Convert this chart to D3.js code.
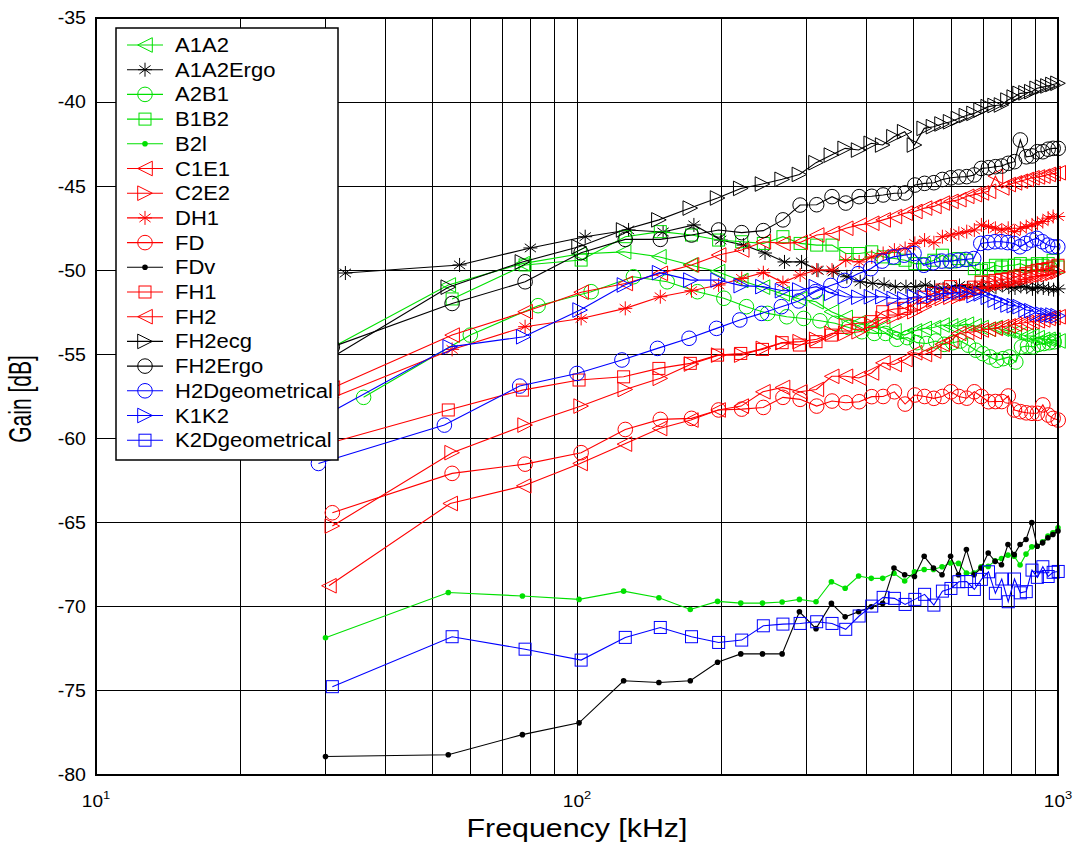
<!DOCTYPE html>
<html><head><meta charset="utf-8">
<script src="https://cdn.jsdelivr.net/npm/d3@7"></script>
<style>body{margin:0;background:#fff}svg{display:block}text{font-family:"Liberation Sans",Arial,Helvetica,sans-serif}</style>
</head><body><svg id="c" width="1074" height="846"></svg>
<script>
// Frequency grid (kHz)
const freqs = [30, 54, 77, 101, 125, 148, 172, 196, 219, 243, 267, 290, 314, 338, 361, 385, 409, 432, 456, 480, 503, 527, 551, 574, 598, 621, 645, 669, 692, 716, 740, 763, 787, 811, 834, 858, 882, 905, 929, 953, 976, 1000];
const names = ["A1A2","A1A2Ergo","A2B1","B1B2","B2l","C1E1","C2E2","DH1","FD","FDv","FH1","FH2","FH2ecg","FH2Ergo","H2Dgeometrical","K1K2","K2Dgeometrical"];
const colors = ["#00e000","#000","#00e000","#00e000","#00e000","#ff0000","#ff0000","#ff0000","#ff0000","#000","#ff0000","#ff0000","#000","#000","#0000ff","#0000ff","#0000ff"];
const markers = ["triL","star","circle","square","dot","triL","triR","star","circle","dot","square","triL","triR","circle","circle","triR","square"];
const freqShift = [0, 3, 6, 1, 0, 1, 1, 1, 1, 0, 0, 0.5, 0, 1, -1, 0.5, 1];

const A1A2 = [-54.8,-50.87,-49.6,-49.03,-48.9,-49.19,-49.68,-50.08,-50.6,-51.0,-51.4,-51.7,-51.87,-52.46,-52.8,-53.1,-53.3,-53.4,-53.6,-53.85,-53.6,-53.45,-53.4,-53.25,-53.3,-53.3,-53.2,-53.3,-53.4,-53.5,-53.4,-53.5,-53.6,-53.7,-53.8,-53.9,-53.9,-54.0,-54.1,-54.1,-54.15,-54.2];
const A1A2Ergo = [-50.16,-49.68,-48.67,-48.0,-47.6,-47.72,-47.3,-48.2,-48.5,-48.97,-49.5,-49.5,-50.0,-50.08,-50.38,-50.68,-50.77,-50.83,-50.97,-50.97,-50.97,-50.87,-51.0,-51.1,-51.0,-50.9,-51.05,-51.0,-50.95,-51.1,-51.0,-50.9,-51.0,-51.05,-50.95,-51.0,-51.1,-51.0,-51.05,-51.1,-51.15,-51.1];
const A2B1 = [-57.55,-53.85,-52.1,-51.27,-50.38,-50.68,-51.27,-51.66,-52.16,-52.56,-52.76,-52.86,-53.0,-53.15,-53.4,-53.65,-53.75,-53.75,-54.1,-54.0,-54.3,-54.35,-54.2,-54.4,-54.3,-54.2,-54.45,-54.75,-54.95,-55.15,-55.35,-55.25,-55.15,-55.45,-54.55,-54.5,-54.55,-54.4,-54.35,-54.3,-54.25,null];
const B1B2 = [null,-51.7,-49.68,-49.39,-48.0,-47.7,-47.9,-48.2,-48.3,-48.4,-48.0,-48.4,-48.5,-48.5,-49.0,-49.0,-48.9,-49.2,-49.3,-49.4,-49.6,-49.6,-49.4,-49.1,-49.5,-49.3,-49.4,-49.9,-50.0,-49.9,-49.7,-49.8,-49.7,-49.7,-49.6,-49.75,-49.7,-49.6,-49.7,-49.6,-49.4,-49.8];
const B2l = [-71.84,-69.15,-69.36,-69.56,-69.07,-69.46,-70.16,-69.68,-69.78,-69.78,-69.72,-69.56,-69.7,-68.51,-68.9,-68.17,-68.31,-68.31,-68.01,-68.47,-67.92,-67.78,-67.78,-67.62,-67.4,-67.42,-68.0,-68.0,-67.62,-67.6,-67.27,-67.13,-66.93,-67.0,-67.52,-66.87,-66.43,-66.4,-66.13,-65.8,-65.6,-65.3];
const C1E1 = [-57.0,-53.85,-52.46,-51.3,-50.78,-50.18,-49.68,-49.09,-48.79,-48.3,-48.4,-48.34,-47.9,-47.8,-47.5,-47.3,-47.2,-47.0,-46.8,-46.6,-46.5,-46.3,-46.2,-46.0,-45.9,-45.8,-45.6,-45.5,-45.4,-45.3,-44.4,-45.1,-44.9,-44.8,-44.7,-44.6,-44.5,-44.45,-44.4,-44.3,-44.25,-44.2];
const C2E2 = [-65.2,-60.84,-59.2,-58.07,-57.08,-56.42,-55.57,-55.04,-55.04,-54.64,-54.3,-54.24,-54.1,-53.75,-53.75,-53.65,-53.25,-52.86,-52.76,-52.5,-52.46,-52.16,-51.77,-51.67,-51.6,-51.57,-51.4,-51.27,-51.1,-50.95,-50.85,-50.78,-50.7,-50.6,-50.55,-50.48,-50.4,-50.35,-50.28,-50.25,-50.18,-50.1];
const DH1 = [-57.57,-54.7,-53.35,-52.86,-52.26,-51.57,-51.21,-50.87,-50.48,-50.14,-50.73,-50.28,-49.98,-49.98,-49.4,-49.5,-49.2,-49.0,-48.8,-48.7,-48.4,-48.2,-48.36,-48.0,-47.9,-47.8,-47.7,-47.6,-47.3,-47.4,-47.5,-47.6,-47.5,-47.7,-47.5,-47.4,-47.3,-47.2,-47.1,-46.9,-46.8,-46.8];
const FD = [-64.41,-62.07,-61.52,-60.84,-59.46,-58.86,-58.8,-58.3,-58.25,-58.15,-57.55,-57.67,-58.07,-57.77,-57.87,-57.81,-57.51,-57.5,-57.22,-57.95,-57.41,-57.5,-57.61,-57.5,-57.22,-57.5,-57.6,-57.22,-57.5,-57.81,-57.8,-57.8,-57.47,-58.3,-58.4,-58.47,-58.5,-58.5,-58.0,-58.6,-58.8,-58.9];
const FDv = [-78.9,-78.8,-77.6,-76.9,-74.4,-74.5,-74.4,-73.3,-72.8,-72.8,-72.8,-70.3,-71.3,-69.8,-70.6,-70.3,-70.0,-69.8,-67.7,-68.1,-68.2,-67.0,-67.7,-68.1,-67.0,-68.1,-66.6,-68.1,-67.7,-66.8,-67.3,-67.5,-66.3,-66.9,-66.3,-66.0,-65.0,-66.4,-66.2,-65.9,-65.7,-65.5];
const FH1 = [-60.34,-58.3,-57.12,-56.52,-56.33,-55.83,-55.53,-55.04,-54.94,-54.7,-54.3,-54.44,-54.24,-53.85,-53.25,-53.15,-53.05,-52.46,-52.3,-52.26,-52.0,-51.6,-51.37,-51.17,-50.97,-51.4,-51.2,-51.0,-50.7,-50.7,-50.6,-50.55,-50.5,-50.4,-50.3,-50.2,-50.1,-50.0,-49.95,-49.9,-49.8,-49.7];
const FH2 = [-68.75,-63.86,-62.81,-61.48,-60.33,-59.4,-58.9,-58.3,-58.07,-57.22,-56.96,-57.22,-57.08,-56.3,-56.3,-56.4,-56.1,-55.5,-55.6,-55.3,-54.9,-55.0,-54.8,-54.4,-54.2,-53.75,-53.7,-53.65,-53.55,-53.5,-53.45,-53.35,-53.3,-53.2,-53.15,-53.1,-53.05,-53.0,-52.95,-52.86,-52.8,-52.76];
const FH2ecg = [-55.4,-51.0,-49.5,-48.6,-47.6,-47.0,-46.3,-45.7,-45.13,-44.87,-44.59,-44.3,-43.6,-43.15,-42.75,-42.85,-42.45,-42.55,-42.06,-41.76,-42.55,-41.56,-41.46,-41.3,-41.17,-40.97,-40.8,-40.67,-40.47,-40.27,-40.2,-40.17,-39.88,-39.7,-39.48,-39.45,-39.38,-39.18,-39.1,-39.04,-38.95,-38.88];
const FH2Ergo = [-54.55,-51.97,-50.68,-48.95,-48.16,-48.16,-47.9,-47.6,-47.76,-47.64,-47.0,-46.12,-46.1,-45.62,-46.0,-45.62,-45.6,-45.52,-45.42,-45.4,-44.93,-44.83,-44.79,-44.6,-44.5,-44.45,-44.43,-44.33,-43.94,-43.9,-43.84,-43.8,-43.64,-43.54,-42.25,-43.25,-43.2,-42.95,-42.95,-42.8,-42.75,-42.75];
const H2Dgeometrical = [-61.48,-59.2,-56.88,-56.13,-55.33,-54.64,-54.04,-53.45,-52.95,-52.56,-52.16,-51.82,-51.27,-50.9,-50.6,-50.2,-49.9,-49.45,-49.2,-49.1,-49.0,-49.7,-49.55,-49.45,-49.45,-49.4,-49.35,-49.3,-48.4,-48.35,-48.3,-48.3,-48.35,-48.4,-48.6,-48.4,-48.2,-48.1,-48.3,-48.5,-48.6,-48.6];
const K1K2 = [-58.5,-54.55,-53.95,-52.36,-50.87,-50.14,-50.58,-50.58,-50.91,-50.97,-51.21,-51.17,-50.97,-51.37,-51.57,-51.6,-51.57,-51.57,-51.67,-51.7,-51.57,-51.6,-51.5,-51.37,-51.4,-51.3,-51.27,-51.5,-51.4,-51.6,-51.77,-51.9,-52.06,-52.1,-52.16,-52.36,-52.4,-52.56,-52.6,-52.66,-52.66,-52.7];
const K2Dgeometrical = [-74.75,-71.78,-72.52,-73.17,-71.82,-71.23,-71.78,-72.12,-71.98,-71.13,-71.03,-70.99,-70.89,-70.99,-71.34,-70.55,-69.96,-69.44,-69.5,-69.86,-69.56,-69.26,-69.9,-69.07,-68.91,-68.51,-68.5,-68.97,-68.37,-67.92,-69.2,-68.35,-69.7,-68.35,-69.17,-69.1,-67.82,-68.25,-67.62,-68.2,-67.95,-67.9];

const seriesValues = [A1A2,A1A2Ergo,A2B1,B1B2,B2l,C1E1,C2E2,DH1,FD,FDv,FH1,FH2,FH2ecg,FH2Ergo,H2Dgeometrical,K1K2,K2Dgeometrical];
const yTicks = [-80,-75,-70,-65,-60,-55,-50,-45,-40,-35];
const xTicks = [10,100,1000];
const xTickExp = ["1","2","3"];

const svg = d3.select("#c");
const L=96,R=1058,T=18,B=775;
const SX = 1.12; // horizontal stretch of glyphs seen in the reference
const x = d3.scaleLog().domain([10,1000]).range([L,R]);
const y = d3.scaleLinear().domain([-80,-35]).range([B,T]);

// grid
const minor = [];
[10,100].forEach(d=>{for(let k=2;k<=9;k++)minor.push(d*k);});
minor.push(100);
svg.append("g").selectAll("line").data(minor).join("line")
  .attr("x1",d=>x(d)).attr("x2",d=>x(d)).attr("y1",T).attr("y2",B)
  .attr("stroke","#000").attr("stroke-width",1).attr("shape-rendering","crispEdges");
svg.append("g").selectAll("line").data(yTicks.slice(1,-1)).join("line")
  .attr("x1",L).attr("x2",R).attr("y1",d=>y(d)).attr("y2",d=>y(d))
  .attr("stroke","#000").attr("stroke-width",1).attr("shape-rendering","crispEdges");

// y tick labels
const gy = svg.append("g");
yTicks.forEach(t=>{
  gy.append("g").attr("transform",`translate(86,${y(t)}) scale(${SX},1)`)
    .append("text").attr("text-anchor","end").attr("dy","0.36em").attr("font-size",17.5).text(t);
});
// x tick labels
const gx = svg.append("g");
xTicks.forEach((t,i)=>{
  const tx = gx.append("g").attr("transform",`translate(${x(t)},807) scale(${SX},1)`)
    .append("text").attr("text-anchor","middle").attr("font-size",17);
  tx.append("tspan").text("10");
  tx.append("tspan").attr("dy",-8).attr("font-size",11.5).text(xTickExp[i]);
});

svg.append("g").attr("transform",`translate(577,837) scale(1.19,1)`)
  .append("text").attr("text-anchor","middle").attr("font-size",25.5).text("Frequency [kHz]");
svg.append("g").attr("transform","translate(31,399) scale(1.45,1) rotate(-90)")
  .append("text").attr("text-anchor","middle").attr("font-size",21).text("Gain [dB]");

// markers
function marker(g, type, color, s){
  const r = 7.3*s;
  if(type==="circle") g.append("circle").attr("r",7.3*s).attr("fill","none").attr("stroke",color);
  else if(type==="square") g.append("rect").attr("x",-6*s).attr("y",-6*s).attr("width",12*s).attr("height",12*s).attr("fill","none").attr("stroke",color);
  else if(type==="triL") g.append("path").attr("d",`M${-r},0L${r},${-r}L${r},${r}Z`).attr("fill","none").attr("stroke",color);
  else if(type==="triR") g.append("path").attr("d",`M${r},0L${-r},${-r}L${-r},${r}Z`).attr("fill","none").attr("stroke",color);
  else if(type==="star"){
    const a=7*s, c=a*0.6, d=a*0.8;
    g.append("path").attr("d",`M0,${-a}L0,${a}M${-a},0L${a},0M${-d},${-c}L${d},${c}M${-d},${c}L${d},${-c}`).attr("fill","none").attr("stroke",color);
  }
  else if(type==="dot") g.append("circle").attr("r",2.8*s).attr("fill",color).attr("stroke","none");
}

const plot = svg.append("g");
seriesValues.forEach((vals,si)=>{
  const pts = freqs.map((f,i)=>({f:f+freqShift[si], v:vals[i]})).filter(p=>p.v!==null && p.v!==undefined);
  const line = d3.line().x(p=>x(p.f)).y(p=>y(p.v));
  const g = plot.append("g");
  g.append("path").attr("d",line(pts)).attr("fill","none").attr("stroke",colors[si]).attr("stroke-width",1.1);
  pts.forEach(p=>{
    const mg = g.append("g").attr("transform",`translate(${x(p.f)},${y(p.v)})`);
    marker(mg, markers[si], colors[si], 1);
  });
});

// frame
svg.append("rect").attr("x",L).attr("y",T).attr("width",R-L).attr("height",B-T).attr("fill","none").attr("stroke","#000").attr("stroke-width",2);

// legend
const lg = svg.append("g");
lg.append("rect").attr("x",116).attr("y",28).attr("width",222).attr("height",432).attr("fill","#fff").attr("stroke","#000").attr("stroke-width",1.5);
names.forEach((n,i)=>{
  const cy = 45 + i*24.7;
  lg.append("line").attr("x1",127).attr("x2",163).attr("y1",cy).attr("y2",cy).attr("stroke",colors[i]).attr("stroke-width",1.1);
  const mg = lg.append("g").attr("transform",`translate(145,${cy})`);
  marker(mg, markers[i], colors[i], 1);
  lg.append("g").attr("transform",`translate(175,${cy}) scale(1.13,1)`)
    .append("text").attr("dy","0.36em").attr("font-size",19.5).text(n);
});
</script></body></html>
